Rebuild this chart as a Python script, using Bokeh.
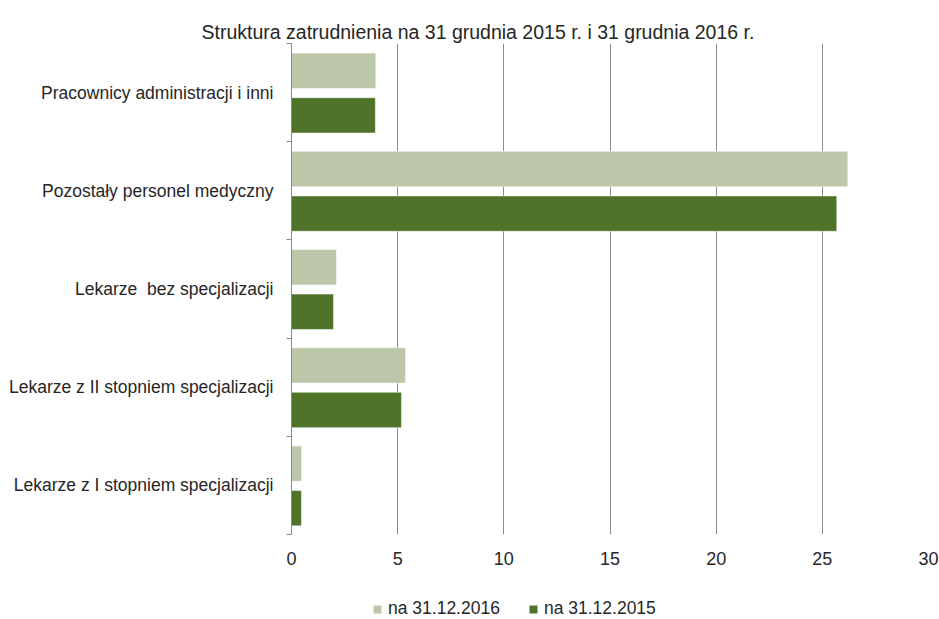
from bokeh.plotting import figure
from bokeh.models import ColumnDataSource, FixedTicker, Legend, LegendItem, Title
from bokeh.layouts import column
from bokeh.transform import dodge
from bokeh.embed import file_html
from bokeh.resources import INLINE

categories = [
    "Lekarze z I stopniem specjalizacji",
    "Lekarze z II stopniem specjalizacji",
    "Lekarze  bez specjalizacji",
    "Pozostały personel medyczny",
    "Pracownicy administracji i inni",
]
values_2016 = [0.47, 5.37, 2.12, 26.2, 3.97]
values_2015 = [0.47, 5.18, 1.98, 25.68, 3.95]
series_labels = ["na 31.12.2016", "na 31.12.2015"]
x_ticks = [0, 5, 10, 15, 20, 25, 30]

FONT = "Liberation Sans"
TXT = "#262626"
LIGHT = "#BCC6A8"
DARK = "#4F7329"
GRID = "#8C8C8C"

pos = [i + 0.5 for i in range(len(categories))]
src = ColumnDataSource(dict(y=pos, v16=values_2016, v15=values_2015))

p = figure(width=939, height=580, output_backend="svg", toolbar_location=None,
           x_range=(0, 30), y_range=(0, 5),
           min_border_left=291, min_border_right=11, min_border_top=43, min_border_bottom=46)
p.outline_line_color = None
p.background_fill_color = "white"
p.border_fill_color = "white"

bar_style = dict(line_color="white", line_alpha=0.5, line_width=1, height=0.36)
r16 = p.hbar(y=dodge("y", 0.222, range=p.y_range), right="v16", left=0,
             source=src, fill_color=LIGHT, **bar_style)
r15 = p.hbar(y=dodge("y", -0.232, range=p.y_range), right="v15", left=0,
             source=src, fill_color=DARK, **bar_style)

# y axis: labels at category centres, ticks at category boundaries
p.yaxis.ticker = FixedTicker(ticks=pos, minor_ticks=list(range(len(categories) + 1)))
p.yaxis.major_label_overrides = {v: c.replace("  ", " \u00a0") for v, c in zip(pos, categories)}
p.yaxis.major_tick_out = 0
p.yaxis.major_tick_in = 0
p.yaxis.minor_tick_out = 5
p.yaxis.minor_tick_in = 0
p.yaxis.minor_tick_line_color = GRID
p.yaxis.axis_line_color = GRID
p.yaxis.major_label_standoff = 13
p.yaxis.major_label_text_font = FONT
p.yaxis.major_label_text_font_size = "17.5px"
p.yaxis.major_label_text_color = TXT

p.xaxis.ticker = FixedTicker(ticks=x_ticks, minor_ticks=[])
p.xaxis.axis_line_color = None
p.xaxis.major_tick_line_color = None
p.xaxis.major_label_standoff = 11
p.xaxis.major_label_text_font = FONT
p.xaxis.major_label_text_font_size = "18px"
p.xaxis.major_label_text_color = TXT

p.ygrid.grid_line_color = None
p.xgrid.grid_line_color = GRID
p.xgrid.ticker = FixedTicker(ticks=x_ticks[1:])

title = Title(text="Struktura zatrudnienia na 31 grudnia 2015 r. i 31 grudnia 2016 r.",
              align="left", offset=-90, text_font=FONT, text_font_size="19.5px",
              text_color=TXT, text_font_style="normal", standoff=2)
p.add_layout(title, "above")

# legend strip below the chart (renderers without visible data only provide the swatches)
lg = figure(width=939, height=39, output_backend="svg", toolbar_location=None,
            x_range=(0, 1), y_range=(0, 1), min_border=0)
lg.axis.visible = False
lg.grid.visible = False
lg.outline_line_color = None
nan = float("nan")
dummy = ColumnDataSource(dict(y=[nan], r=[nan]))
s16 = lg.hbar(y="y", right="r", left=0, height=0.5, source=dummy, fill_color=LIGHT, line_color=None)
s15 = lg.hbar(y="y", right="r", left=0, height=0.5, source=dummy, fill_color=DARK, line_color=None)
legend = Legend(items=[LegendItem(label=series_labels[0], renderers=[s16]),
                       LegendItem(label=series_labels[1], renderers=[s15])],
                orientation="horizontal", location=(81, 0),
                glyph_width=10, glyph_height=10, label_height=12, label_standoff=6,
                spacing=28, padding=0, margin=0, border_line_color=None,
                background_fill_alpha=0,
                label_text_font=FONT, label_text_font_size="17.5px", label_text_color=TXT)
lg.add_layout(legend, "center")

layout = column(p, lg, spacing=0)
open("out.html", "w").write(file_html(layout, INLINE))
